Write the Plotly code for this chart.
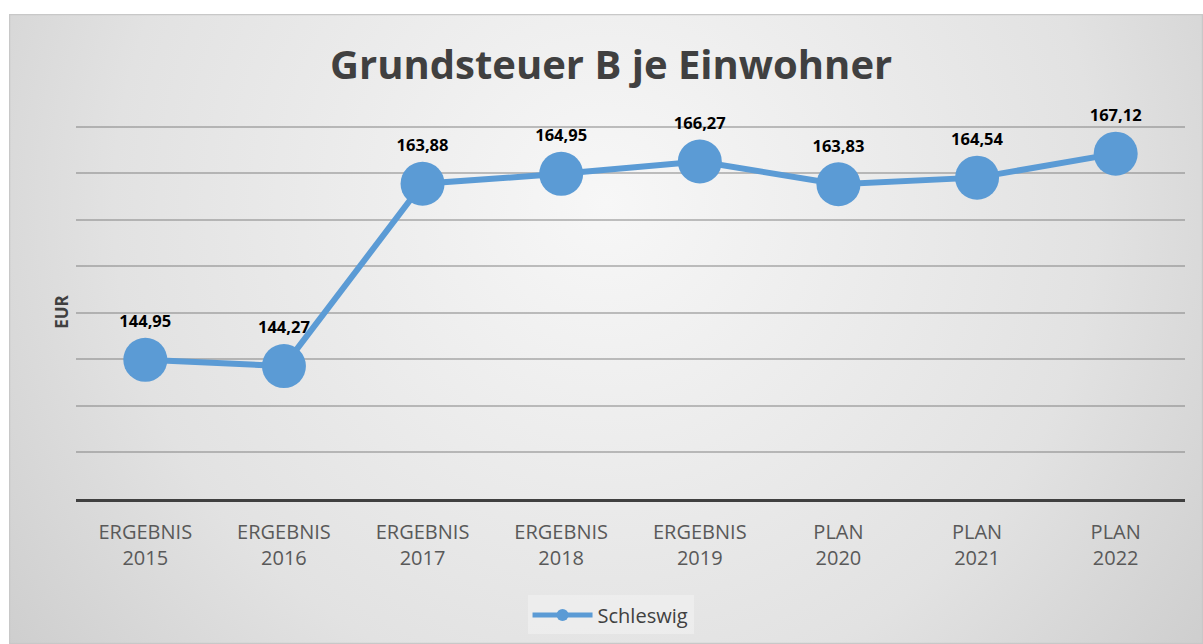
import base64
import plotly.graph_objects as go

categories = ["ERGEBNIS<br>2015", "ERGEBNIS<br>2016", "ERGEBNIS<br>2017", "ERGEBNIS<br>2018",
              "ERGEBNIS<br>2019", "PLAN<br>2020", "PLAN<br>2021", "PLAN<br>2022"]
values = [144.95, 144.27, 163.88, 164.95, 166.27, 163.83, 164.54, 167.12]
labels = ["144,95", "144,27", "163,88", "164,95", "166,27", "163,83", "164,54", "167,12"]
series_name = "Schleswig"

svg = """<svg xmlns='http://www.w3.org/2000/svg' width='1194' height='630' viewBox='0 0 1194 630' preserveAspectRatio='none'>
<defs><radialGradient id='g' cx='0.5' cy='0.3' r='0.75' gradientTransform='translate(0.5 0.3) scale(1 1.9) translate(-0.5 -0.3)'>
<stop offset='0' stop-color='#f7f7f7'/><stop offset='0.55' stop-color='#e2e2e2'/><stop offset='1' stop-color='#c2c2c2'/>
</radialGradient></defs>
<rect x='0' y='0' width='1194' height='630' fill='url(#g)'/>
<rect x='0.5' y='0.5' width='1193' height='629' fill='none' stroke='#c8c8c8' stroke-width='1.5'/>
</svg>"""
src = "data:image/svg+xml;base64," + base64.b64encode(svg.encode()).decode()

fig = go.Figure()
fig.add_trace(go.Scatter(
    x=categories, y=values, mode="lines+markers+text", name=series_name,
    text=labels, textposition="top center", cliponaxis=False,
    textfont=dict(family="Open Sans", size=16.5, color="#000000", weight="bold"),
    line=dict(color="#5B9BD5", width=6),
    marker=dict(color="#5B9BD5", size=44),
))

W, H = 1203, 644
ymin, ymax = 129.98, 170.2
k = (499 - 127) / 40.0
T = round(499 - (ymax - 130) * k)
Bpx = 499 + (130 - ymin) * k
B = round(H - Bpx)
L, R = 76, 18
pw, ph = W - L - R, H - T - B
x0 = (9 - L) / pw
x1 = (W - L) / pw
y1 = (H - B - 14) / ph
y0 = (H - B - H) / ph

fig.add_layout_image(dict(source=src, xref="paper", yref="paper", x=x0, y=y1,
                          sizex=x1 - x0, sizey=y1 - y0, sizing="stretch", layer="below"))

fig.update_layout(
    width=W, height=H, margin=dict(l=L, r=R, t=T, b=B, autoexpand=False),
    paper_bgcolor="white", plot_bgcolor="rgba(0,0,0,0)",
    title=dict(text="<b>Grundsteuer B je Einwohner</b>", x=0.508, xanchor="center",
               y=1 - 65 / H, yanchor="middle",
               font=dict(family="Open Sans", size=40, color="#404040")),
    xaxis=dict(showline=True, linecolor="#404040", linewidth=3, showgrid=False,
               range=[-0.5, 7.5], automargin=False, ticklabelstandoff=13,
               tickfont=dict(family="Open Sans", size=20, color="#595959"), ticks=""),
    yaxis=dict(range=[ymin, ymax], tick0=130, dtick=5, showticklabels=False, showline=False,
               automargin=False,
               zeroline=False, gridcolor="rgba(120,120,120,0.45)", gridwidth=1.5,
               title=dict(text="<b>EUR</b>", standoff=2,
                          font=dict(family="Open Sans", size=17, color="#404040"))),
    showlegend=True,
    legend=dict(orientation="h", x=0.482, xanchor="center", y=-0.31, yanchor="middle",
                bgcolor="rgba(255,255,255,0.3)",
                font=dict(family="Open Sans", size=20, color="#404040"),
                itemsizing="constant", itemwidth=60),
)
fig.write_html("out.html", config={"displayModeBar": False},
               post_script="document.body.style.margin='0';document.body.style.padding='0';")
